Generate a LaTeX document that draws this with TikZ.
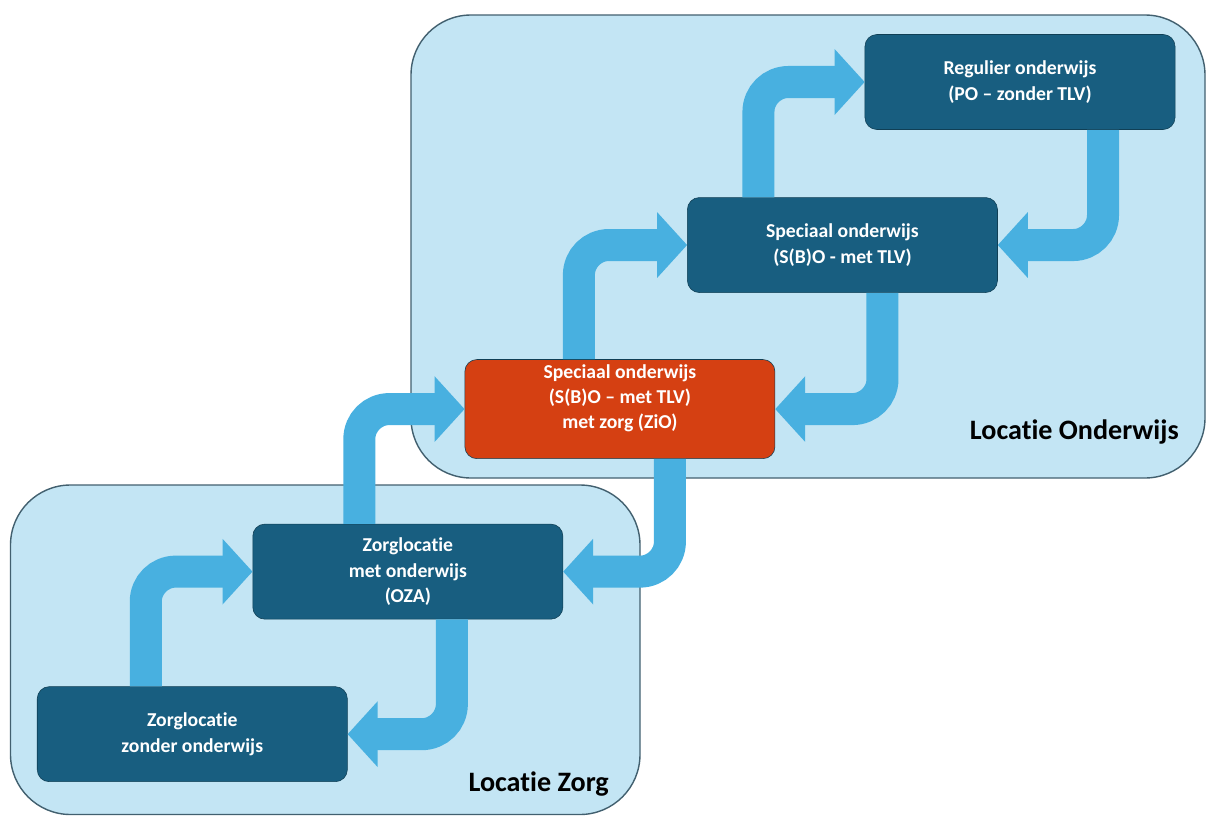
\documentclass[tikz,border=0pt]{standalone}
\usepackage{fontspec}
\setmainfont{Carlito}[Ligatures=NoCommon]
\usetikzlibrary{positioning, arrows.meta}
\definecolor{arealight}{HTML}{C3E5F4}
\definecolor{arealine}{HTML}{42606F}
\definecolor{boxblue}{HTML}{185E80}
\definecolor{boxline}{HTML}{103F55}
\definecolor{zioorange}{HTML}{D54012}
\definecolor{flowblue}{HTML}{48B0E0}

\begin{document}
\begin{tikzpicture}[x=0.025cm,y=-0.025cm,on grid,
	area/.style={draw=arealine,line width=1pt,fill=arealight,rounded corners=1.5cm},
	areaname/.style={font=\fontsize{20}{24}\selectfont\bfseries,inner sep=0pt,anchor=base east},
	place/.style={draw=boxline,fill=boxblue,rounded corners=0.3cm,minimum width=7.75cm,minimum height=2.375cm,
		align=center,text=white,font=\fontsize{14}{18}\selectfont\bfseries},
	flow/.style={draw=flowblue,line width=0.8cm,rounded corners=0.75cm,-{Triangle[length=0.75cm,width=1.6cm]}}]
			\useasboundingbox (0,0) rectangle (1206,816);
			\draw[area] (411,15) rectangle (1205,478);
			\draw[area] (10.5,485) rectangle (640,814.5);
			\node[areaname] (onderwijs) at (1179,439)	{Locatie Onderwijs};
			\node[areaname] (zorg) at (609,791)			{Locatie Zorg};
			\node[place] (regulier) at (1020,82)									{Regulier onderwijs\\(PO – zonder TLV)};
			\node[place] (speciaal) [below left=4.075cm and 4.4375cm of regulier]	{Speciaal onderwijs\\(S(B)O - met TLV)};
			\node[place,fill=zioorange] (zio) [below left=4.1cm and 5.5625cm of speciaal]	{Speciaal onderwijs\\(S(B)O – met TLV)\\met zorg (ZiO)\\\mbox{}};
			\node[place] (met) [below left=4.0625cm and 5.3cm of zio]				{Zorglocatie\\met onderwijs\\(OZA)};
			\node[place] (zonder) [below left=4.0625cm and 5.3875cm of met]		{Zorglocatie\\zonder onderwijs};
			\draw[flow] ([xshift=-1.1625cm]zonder.north) |- (met.west);
			\draw[flow] ([xshift=1.1cm]met.south) |- (zonder.east);
			\draw[flow] ([xshift=-1.2125cm]met.north) |- (zio.west);
			\draw[flow] ([xshift=1.25cm]zio.south) |- (met.east);
			\draw[flow] ([xshift=-1.025cm]zio.north) |- (speciaal.west);
			\draw[flow] ([xshift=1cm]speciaal.south) |- (zio.east);
			\draw[flow] ([xshift=-2.1cm]speciaal.north) |- (regulier.west);
			\draw[flow] ([xshift=2.075cm]regulier.south) |- (speciaal.east);
	\end{tikzpicture}
\end{document}
